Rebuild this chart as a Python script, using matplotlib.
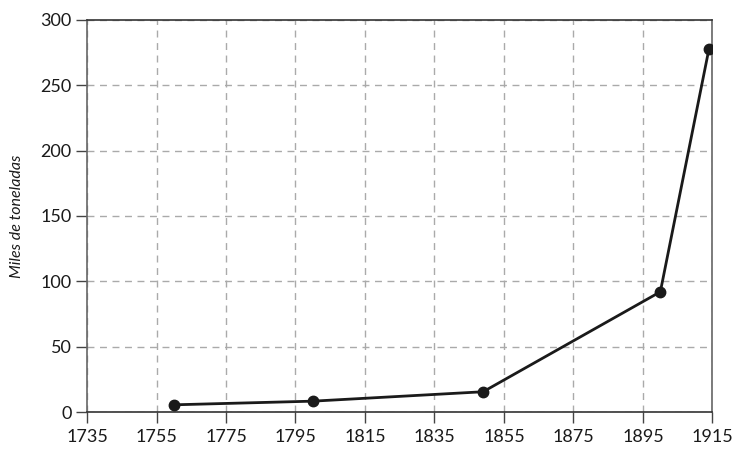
import numpy as np
from matplotlib import pyplot as plt

# production, thousands of tonnes
years = [1760, 1800, 1849, 1900, 1914]
tonnes = [5.5, 8.3, 15.5, 92, 278]

xticks = list(range(1735, 1916, 20))
yticks = list(range(0, 301, 50))

plt.rcParams['font.family'] = ['Lato', 'DejaVu Sans']

fig = plt.figure(figsize=(7.33, 4.54), dpi=100)
ax = fig.add_axes([0.1187, 0.0925, 0.8533, 0.8635])

ax.plot(years, tonnes, color='#1a1a1a', linewidth=2, marker='o', markersize=7.5, zorder=3)

ax.set_xlim(1735, 1915)
ax.set_ylim(0, 300)
ax.set_xticks(xticks)
ax.set_yticks(yticks)
ax.grid(True, color='#aaaaaa', linestyle=(0, (5, 4)), linewidth=1)
for s in ax.spines.values():
    s.set_color('#666666')
    s.set_linewidth(1.2)
ax.spines['bottom'].set_color('#333333')
ax.spines['top'].set_color('#333333')
ax.tick_params(axis='both', direction='out', length=8, width=1, color='#444444',
               labelsize=13, labelcolor='#1a1a1a')
ax.tick_params(axis='x', pad=4)
ax.tick_params(axis='y', pad=3)
ax.set_ylabel('Miles de toneladas', fontsize=11.5, fontstyle='italic', color='#1a1a1a', labelpad=12)

fig.savefig('out.png', dpi=100)
